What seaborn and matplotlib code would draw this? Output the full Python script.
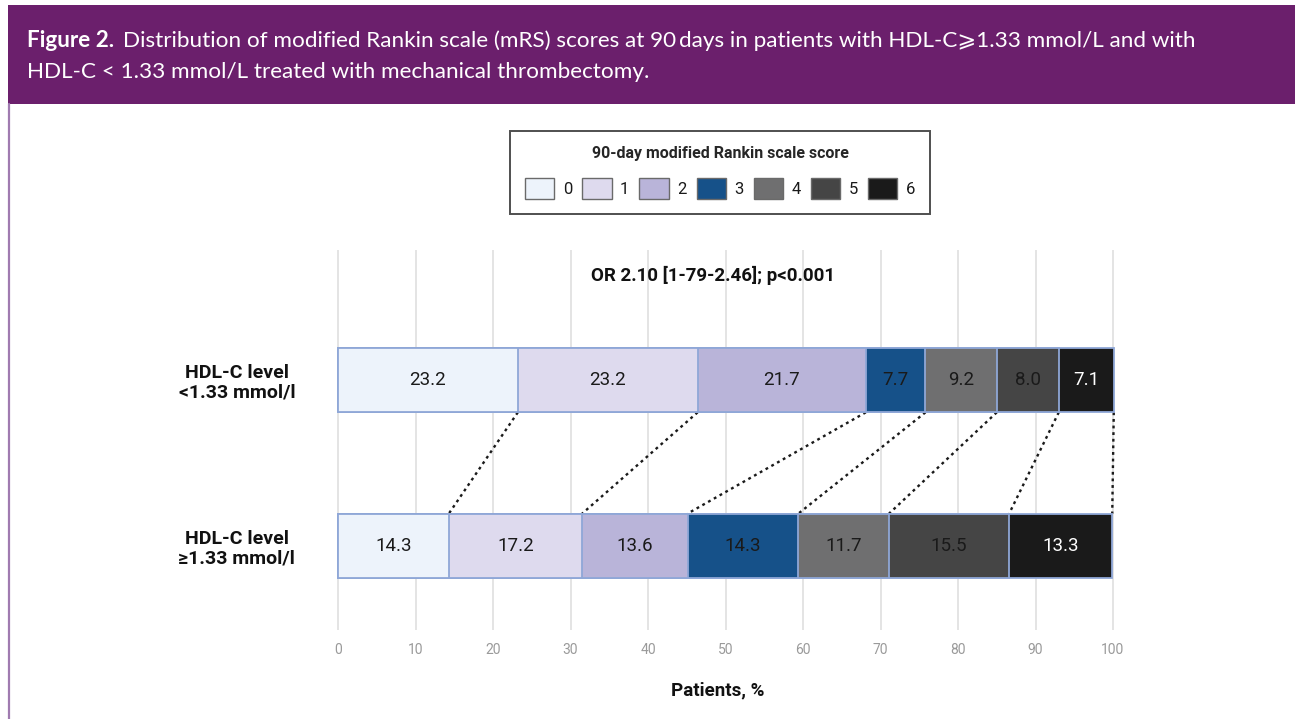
import numpy as np
import pandas as pd
import matplotlib
matplotlib.use("Agg")
import matplotlib.pyplot as plt
from matplotlib.patches import Patch, Rectangle
from matplotlib.lines import Line2D
import seaborn as sns

# ---- data -------------------------------------------------------------
groups = ["HDL-C level\n<1.33 mmol/l", "HDL-C level\n≥1.33 mmol/l"]
scores = ["0", "1", "2", "3", "4", "5", "6"]
pct_low_hdl = [23.2, 23.2, 21.7, 7.7, 9.2, 8.0, 7.1]
pct_high_hdl = [14.3, 17.2, 13.6, 14.3, 11.7, 15.5, 13.3]
x_ticks = [0, 10, 20, 30, 40, 50, 60, 70, 80, 90, 100]

score_colors = ["#EDF3FB", "#DEDAEE", "#B9B4D9", "#165189",
                "#6F6F70", "#454545", "#1A1A1A"]
value_text_colors = ["#1A1A1A"] * 6 + ["#FFFFFF"]

title_bold = "Figure 2."
title_line1 = ("Distribution of modified Rankin scale (mRS) scores at 90\u2009days in "
               "patients with HDL-C\u2a7e1.33 mmol/L and with")
title_line2 = "HDL-C < 1.33 mmol/L treated with mechanical thrombectomy."
odds_text = "OR 2.10 [1-79-2.46]; p<0.001"
legend_title = "90-day modified Rankin scale score"
x_label = "Patients, %"

# ---- tidy table with stacked extents ------------------------------------
rows = []
for g, vals in zip(groups, [pct_low_hdl, pct_high_hdl]):
    cum = np.cumsum(vals)
    for s, v, end in zip(scores, vals, cum):
        rows.append({"group": g, "score": s, "pct": v,
                     "end": end, "start": end - v})
df = pd.DataFrame(rows)

# ---- figure -----------------------------------------------------------
sns.set_theme(style="white")
plt.rcParams["font.family"] = ["Roboto", "DejaVu Sans"]

W, H = 1295, 719
fig = plt.figure(figsize=(W / 100, H / 100), dpi=100)
fig.patch.set_facecolor("white")

# header band and left rule
fig.patches.append(Rectangle((8 / W, 1 - 104 / H), 1 - 8 / W, 99 / H,
                             transform=fig.transFigure, facecolor="#6B1F6C",
                             edgecolor="none", zorder=0))
fig.lines.append(Line2D([8.5 / W, 8.5 / W], [0, 1 - 104 / H],
                        transform=fig.transFigure, color="#A07BB0", lw=1.6))

# axes: 0 -> x=338px, 100 -> x=1113px
ppu = 7.75
x0, x1 = -0.5, 100.5
ax_left = 338 + x0 * ppu
ax_w = (x1 - x0) * ppu
ax_top, ax_bot = 250, 630
ax = fig.add_axes([ax_left / W, 1 - ax_bot / H, ax_w / W, (ax_bot - ax_top) / H])

bar_w = 0.39
edge = "#8FA7D7"
# stacked bars: draw cumulative extents from the widest down
for i in reversed(range(len(scores))):
    sub = df[df["score"] == scores[i]]
    sns.barplot(data=sub, x="end", y="group", order=groups, orient="h",
                color=score_colors[i], saturation=1, width=bar_w,
                edgecolor=edge, linewidth=1.3, errorbar=None, ax=ax, zorder=3)

# value labels inside segments
for _, r in df.iterrows():
    yi = groups.index(r["group"])
    si = scores.index(r["score"])
    ax.text(r["start"] + r["pct"] / 2, yi, f"{r['pct']:.1f}",
            ha="center", va="center", fontsize=13.5,
            color=value_text_colors[si], zorder=5)

# dotted connectors between matching cumulative boundaries
top_end = df[df["group"] == groups[0]]["end"].to_numpy()
bot_end = df[df["group"] == groups[1]]["end"].to_numpy()
for a, b in zip(top_end, bot_end):
    ax.plot([a, b], [0 + bar_w / 2, 1 - bar_w / 2], color="#1A1A1A",
            lw=1.7, ls=(0, (1.2, 1.6)), zorder=2, solid_capstyle="butt")

ax.set_xlim(x0, x1)
ax.set_ylim(1.506, -0.783)
ax.set_xticks(x_ticks)
ax.set_xticklabels([str(t) for t in x_ticks])
ax.grid(axis="x", color="#DCDCDC", lw=1.1)
ax.grid(axis="y", visible=False)
ax.set_axisbelow(True)
for sp in ax.spines.values():
    sp.set_visible(False)

ax.tick_params(axis="x", length=0, pad=9, labelsize=10, labelcolor="#9A9A9A")
ax.set_yticks([0, 1])
ax.set_yticklabels(groups)
ax.tick_params(axis="y", length=0, pad=70)
for lab in ax.get_yticklabels():
    lab.set_ha("center")
    lab.set_multialignment("center")
    lab.set_fontweight("bold")
    lab.set_fontsize(14)
    lab.set_color("#111111")
    lab.set_linespacing(1.1)

ax.set_xlabel("")
ax.set_ylabel("")
fig.text(718 / W, 1 - 690 / H, x_label, ha="center", va="center",
         fontsize=13.5, fontweight="bold", color="#111111")

fig.text(713 / W, 1 - 275 / H, odds_text, ha="center", va="center",
         fontsize=13.5, fontweight="bold", color="#111111")

# legend
handles = [Patch(facecolor=c, edgecolor="#6A6A6A", lw=1.0) for c in score_colors]
leg = fig.legend(handles, scores, ncol=7, loc="center",
                 bbox_to_anchor=(720 / W, 1 - 172.5 / H),
                 frameon=True, fancybox=False, edgecolor="#222222",
                 title=legend_title,
                 title_fontproperties={"weight": "bold", "size": 11.5},
                 prop={"size": 12},
                 handlelength=1.75, handleheight=1.55, handletextpad=0.5,
                 columnspacing=0.62, borderpad=0.9, labelspacing=1.0)
leg.get_frame().set_linewidth(1.4)
for t in leg.get_texts():
    t.set_color("#1A1A1A")

# header text
hfam = ["Lato", "DejaVu Sans"]
hsize = 16.2
renderer = fig.canvas.get_renderer()
tb = fig.text(27 / W, 1 - 47 / H, title_bold, ha="left", va="baseline",
              color="white", fontsize=hsize, fontweight="bold", family=hfam)
bb = tb.get_window_extent(renderer)
fig.text(bb.x1 / W + 9 / W, 1 - 47 / H, title_line1, ha="left", va="baseline",
         color="white", fontsize=hsize, family=hfam)
fig.text(27 / W, 1 - 78 / H, title_line2, ha="left", va="baseline",
         color="white", fontsize=hsize, family=hfam)

fig.savefig("out.png", dpi=100, facecolor="white")
